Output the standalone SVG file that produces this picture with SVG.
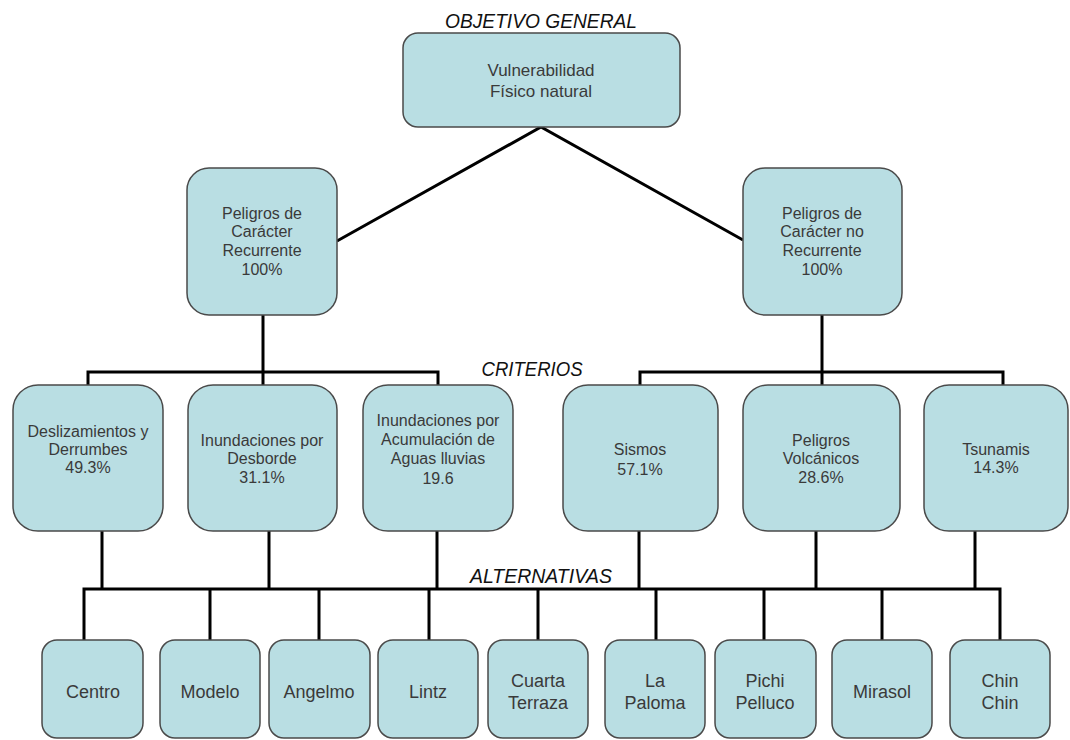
<svg xmlns="http://www.w3.org/2000/svg" width="1070" height="740" viewBox="0 0 1070 740">
<style>
.box{fill:#B9DEE3;stroke:#4a4a4a;stroke-width:1.5}
.t{font-family:"Liberation Sans",Arial,sans-serif;font-size:16px;fill:#3a3a3a;text-anchor:middle}
.tb{font-family:"Liberation Sans",Arial,sans-serif;font-size:18px;fill:#3a3a3a;text-anchor:middle}
.h{font-family:"Liberation Sans",Arial,sans-serif;font-size:21px;font-style:italic;fill:#111;text-anchor:middle}
.c{fill:none;stroke:#000;stroke-width:3;stroke-linejoin:miter}
</style>
<rect width="1070" height="740" fill="#fff"/>
<g id="headers">
<text class="h" x="541" y="28" textLength="192" lengthAdjust="spacingAndGlyphs">OBJETIVO GENERAL</text>
<text class="h" x="532" y="376" textLength="101" lengthAdjust="spacingAndGlyphs">CRITERIOS</text>
<text class="h" x="541" y="583" textLength="142" lengthAdjust="spacingAndGlyphs">ALTERNATIVAS</text>
</g>
<g id="connectors">
<path class="c" d="M337,241 L541,127 L743,240"/>
<path class="c" d="M263,315 V372"/>
<path class="c" d="M822,315 V372"/>
<path class="c" d="M88,386 V372 H438 V386 M263,372 V386"/>
<path class="c" d="M640,386 V372 H1003 V386 M822,372 V386"/>
<path class="c" d="M102,531 V589 M269,531 V589 M437,531 V589 M639,531 V589 M816,531 V589 M975,531 V589"/>
<path class="c" d="M84,641 V589 H1000 V641"/>
<path class="c" d="M210,589 V641 M319,589 V641 M429,589 V641 M538,589 V641 M656,589 V641 M764,589 V641 M882,589 V641"/>
</g>
<g id="n-objetivo">
<rect class="box" x="403" y="33" width="277" height="94" rx="15"/>
<text class="t" x="541" y="76" style="font-size:17px">Vulnerabilidad</text>
<text class="t" x="541" y="97" style="font-size:17px">Físico natural</text>
</g>
<g id="n-recurrente">
<rect class="box" x="187" y="168" width="150" height="147" rx="22"/>
<text class="t" x="262" y="219">Peligros de</text>
<text class="t" x="262" y="237">Carácter</text>
<text class="t" x="262" y="256">Recurrente</text>
<text class="t" x="262" y="275">100%</text>
</g>
<g id="n-norecurrente">
<rect class="box" x="743" y="168" width="159" height="147" rx="22"/>
<text class="t" x="822" y="219">Peligros de</text>
<text class="t" x="822" y="237">Carácter no</text>
<text class="t" x="822" y="256">Recurrente</text>
<text class="t" x="822" y="275">100%</text>
</g>
<g id="n-deslizamientos">
<rect class="box" x="13" y="385" width="150" height="146" rx="25"/>
<text class="t" x="88" y="437">Deslizamientos y</text>
<text class="t" x="88" y="455">Derrumbes</text>
<text class="t" x="88" y="473">49.3%</text>
</g>
<g id="n-desborde">
<rect class="box" x="188" y="385" width="149" height="146" rx="25"/>
<text class="t" x="262" y="446">Inundaciones por</text>
<text class="t" x="262" y="464">Desborde</text>
<text class="t" x="262" y="483">31.1%</text>
</g>
<g id="n-acumulacion">
<rect class="box" x="363" y="385" width="150" height="146" rx="25"/>
<text class="t" x="438" y="426">Inundaciones por</text>
<text class="t" x="438" y="445">Acumulación de</text>
<text class="t" x="438" y="464">Aguas lluvias</text>
<text class="t" x="438" y="484">19.6</text>
</g>
<g id="n-sismos">
<rect class="box" x="563" y="385" width="155" height="146" rx="25"/>
<text class="t" x="640" y="455">Sismos</text>
<text class="t" x="640" y="475">57.1%</text>
</g>
<g id="n-volcanicos">
<rect class="box" x="743" y="385" width="157" height="146" rx="25"/>
<text class="t" x="821" y="446">Peligros</text>
<text class="t" x="821" y="464">Volcánicos</text>
<text class="t" x="821" y="483">28.6%</text>
</g>
<g id="n-tsunamis">
<rect class="box" x="924" y="385" width="144" height="146" rx="25"/>
<text class="t" x="996" y="455">Tsunamis</text>
<text class="t" x="996" y="473">14.3%</text>
</g>
<g id="n-centro">
<rect class="box" x="42" y="640" width="101" height="98" rx="15"/>
<text class="tb" x="93" y="698">Centro</text>
</g>
<g id="n-modelo">
<rect class="box" x="160" y="640" width="100" height="98" rx="15"/>
<text class="tb" x="210" y="698">Modelo</text>
</g>
<g id="n-angelmo">
<rect class="box" x="269" y="640" width="101" height="98" rx="15"/>
<text class="tb" x="319" y="698">Angelmo</text>
</g>
<g id="n-lintz">
<rect class="box" x="378" y="640" width="100" height="98" rx="15"/>
<text class="tb" x="428" y="698">Lintz</text>
</g>
<g id="n-cuarta">
<rect class="box" x="488" y="640" width="100" height="98" rx="15"/>
<text class="tb" x="538" y="687">Cuarta</text>
<text class="tb" x="538" y="709">Terraza</text>
</g>
<g id="n-paloma">
<rect class="box" x="605" y="640" width="100" height="98" rx="15"/>
<text class="tb" x="655" y="687">La</text>
<text class="tb" x="655" y="709">Paloma</text>
</g>
<g id="n-pichi">
<rect class="box" x="715" y="640" width="101" height="98" rx="15"/>
<text class="tb" x="765" y="687">Pichi</text>
<text class="tb" x="765" y="709">Pelluco</text>
</g>
<g id="n-mirasol">
<rect class="box" x="832" y="640" width="100" height="98" rx="15"/>
<text class="tb" x="882" y="698">Mirasol</text>
</g>
<g id="n-chin">
<rect class="box" x="950" y="640" width="100" height="98" rx="15"/>
<text class="tb" x="1000" y="687">Chin</text>
<text class="tb" x="1000" y="709">Chin</text>
</g>
</svg>
